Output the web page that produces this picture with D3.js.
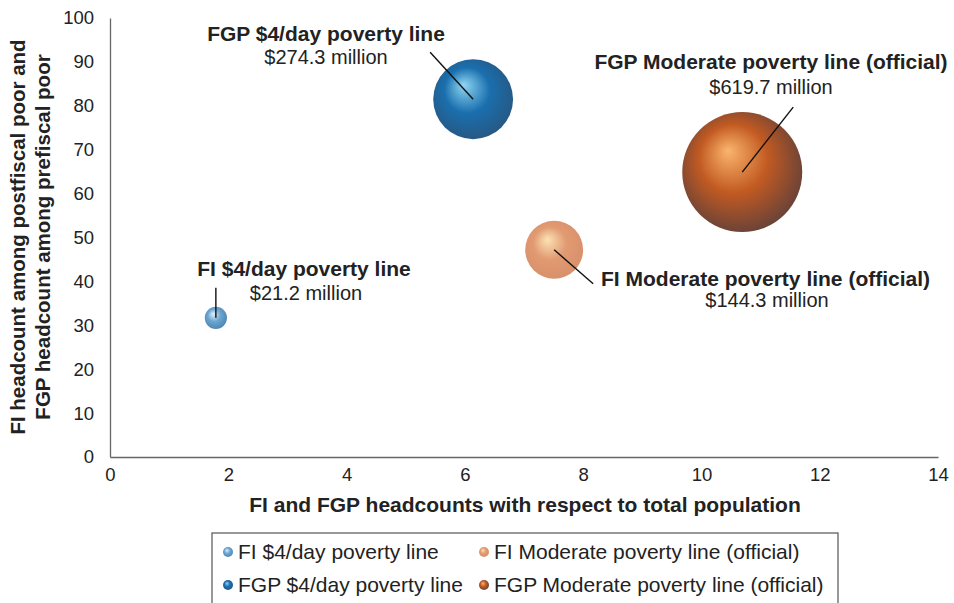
<!DOCTYPE html>
<html><head><meta charset="utf-8">
<script src="https://cdn.jsdelivr.net/npm/d3@7"></script>
<style>body{margin:0;background:#fff}text{font-family:"Liberation Sans",Arial,sans-serif}</style>
</head><body><svg id="c" width="954" height="603"></svg>
<script>
const names = ["FI $4/day poverty line","FGP $4/day poverty line","FI Moderate poverty line (official)","FGP Moderate poverty line (official)"];
const xValues = [1.79, 6.14, 7.51, 10.69];
const yValues = [31.7, 81.5, 47.2, 64.9];
const costs = [21.2, 274.3, 144.3, 619.7];
const costLabels = ["$21.2 million","$274.3 million","$144.3 million","$619.7 million"];
const xTicks = [0,2,4,6,8,10,12,14];
const yTicks = [0,10,20,30,40,50,60,70,80,90,100];

const svg = d3.select("#c");
const x = d3.scaleLinear().domain([0,14]).range([110,938]);
const y = d3.scaleLinear().domain([0,100]).range([457,18]);
const r = d3.scaleSqrt().domain([0,619.7]).range([0,60]);

const grads = [
  {hi:"#e2f1fb", mid:"#6aa6d2", lo:"#3f6f99"},
  {hi:"#8fd6f2", mid:"#1a6fae", lo:"#2f4866"},
  {hi:"#fbe3b4", mid:"#e29a72", lo:"#cf8a66"},
  {hi:"#fbb56c", mid:"#c25a22", lo:"#2b3247"}
];
const defs = svg.append("defs");
grads.forEach((g,i)=>{
  const rg = defs.append("radialGradient").attr("id","g"+i)
    .attr("cx","50%").attr("cy","50%").attr("r","75%").attr("fx","38%").attr("fy","32%");
  rg.append("stop").attr("offset","0%").attr("stop-color",g.hi);
  rg.append("stop").attr("offset","38%").attr("stop-color",g.mid);
  rg.append("stop").attr("offset","100%").attr("stop-color",g.lo);
});

const FONT = "Liberation Sans, Arial, sans-serif";
const yAxis = d3.axisLeft(y).tickValues(yTicks).tickSize(0).tickPadding(16);
const gy = svg.append("g").attr("transform","translate(110,0)").call(yAxis);
const xAxis = d3.axisBottom(x).tickValues(xTicks).tickSize(0).tickPadding(11);
const gx = svg.append("g").attr("transform","translate(0,457)").call(xAxis);
[gy,gx].forEach(g=>{
  g.select(".domain").attr("stroke","#666").attr("stroke-width",1.3);
  g.selectAll("text").attr("font-size",18.5).attr("fill","#222").attr("font-family",FONT);
});

svg.append("text").attr("x",525).attr("y",512).attr("text-anchor","middle")
  .attr("font-size",21).attr("font-weight","bold").attr("fill","#222")
  .text("FI and FGP headcounts with respect to total population");
const yt = svg.append("text").attr("transform","translate(0,237) rotate(-90)")
  .attr("text-anchor","middle").attr("font-size",20.5).attr("font-weight","bold").attr("fill","#222");
yt.append("tspan").attr("x",0).attr("y",25).text("FI headcount among postfiscal poor and");
yt.append("tspan").attr("x",0).attr("y",50).text("FGP headcount among prefiscal poor");

const leaders = [
  {dx:0, dy:-30},
  {dx:-43, dy:-47},
  {dx:39, dy:34},
  {dx:51, dy:-65}
];
const data = names.map((n,i)=>({n,x:xValues[i],y:yValues[i],c:costs[i],lab:costLabels[i],i}));
svg.selectAll("circle.b").data([...data].sort((a,b)=>b.c-a.c)).join("circle").attr("class","b")
  .attr("cx",d=>x(d.x)).attr("cy",d=>y(d.y)).attr("r",d=>r(d.c))
  .attr("fill",d=>"url(#g"+d.i+")");
svg.selectAll("line.l").data(data).join("line").attr("class","l")
  .attr("x1",d=>x(d.x)).attr("y1",d=>y(d.y))
  .attr("x2",d=>x(d.x)+leaders[d.i].dx).attr("y2",d=>y(d.y)+leaders[d.i].dy)
  .attr("stroke","#111").attr("stroke-width",1.4);

const labPos = [
  {x:304, y:276, anchor:"middle", x2:306, gap:24},
  {x:326, y:41, anchor:"middle", x2:326, gap:23},
  {x:601, y:286, anchor:"start", x2:767, gap:21},
  {x:771, y:69, anchor:"middle", x2:771, gap:25}
];
data.forEach(d=>{
  const p = labPos[d.i];
  svg.append("text").attr("x",p.x).attr("y",p.y).attr("text-anchor",p.anchor)
    .attr("font-size",21).attr("font-weight","bold").attr("fill","#222").text(d.n);
  svg.append("text").attr("x",p.x2).attr("y",p.y+p.gap).attr("text-anchor","middle")
    .attr("font-size",20).attr("fill","#222").text(d.lab);
});

svg.append("rect").attr("x",212).attr("y",533).attr("width",626).attr("height",80)
  .attr("fill","#fff").attr("stroke","#555").attr("stroke-width",1.2);
const legPos = [[0,0],[0,1],[1,0],[1,1]];
data.forEach(d=>{
  const [c,row] = legPos[d.i];
  const lx = c===0 ? 228 : 484;
  const ly = 552 + row*33;
  svg.append("circle").attr("cx",lx).attr("cy",ly).attr("r",5).attr("fill","url(#g"+d.i+")");
  svg.append("text").attr("x",lx+10).attr("y",ly+7).attr("font-size",21).attr("fill","#222").text(d.n);
});
</script></body></html>
